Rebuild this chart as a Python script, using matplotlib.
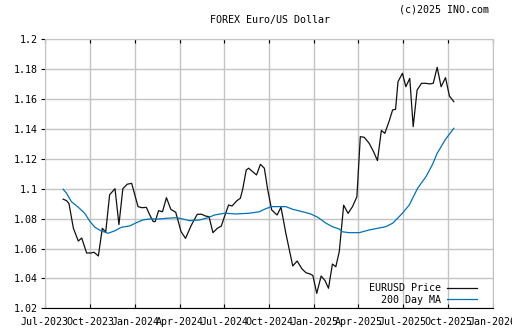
import matplotlib
matplotlib.use("Agg")
import matplotlib.pyplot as plt
import matplotlib.dates as mdates
import pandas as pd

# EURUSD price (approx. weekly closes)
price_dates = [
    "2023-08-07", "2023-08-14", "2023-08-19", "2023-08-28", "2023-09-07", "2023-09-14",
    "2023-09-24", "2023-10-03", "2023-10-09", "2023-10-18", "2023-10-26", "2023-11-02",
    "2023-11-10", "2023-11-21", "2023-11-29", "2023-12-07", "2023-12-16", "2023-12-25",
    "2024-01-07", "2024-01-15", "2024-01-24", "2024-01-31", "2024-02-07", "2024-02-11",
    "2024-02-18", "2024-02-26", "2024-03-05", "2024-03-14", "2024-03-24", "2024-04-04",
    "2024-04-13", "2024-04-25", "2024-05-07", "2024-05-16", "2024-05-24", "2024-05-31",
    "2024-06-08", "2024-06-17", "2024-06-25", "2024-07-04", "2024-07-10", "2024-07-17",
    "2024-07-27", "2024-08-03", "2024-08-08", "2024-08-15", "2024-08-20", "2024-08-28",
    "2024-09-05", "2024-09-13", "2024-09-21", "2024-09-28", "2024-10-06", "2024-10-17",
    "2024-10-25", "2024-11-04", "2024-11-18", "2024-11-27", "2024-12-07", "2024-12-15",
    "2024-12-23", "2024-12-29", "2025-01-06", "2025-01-15", "2025-01-23", "2025-01-30",
    "2025-02-07", "2025-02-14", "2025-02-21", "2025-03-02", "2025-03-11", "2025-03-20",
    "2025-03-29", "2025-04-05", "2025-04-13", "2025-04-23", "2025-05-02", "2025-05-10",
    "2025-05-18", "2025-05-25", "2025-06-03", "2025-06-10", "2025-06-16", "2025-06-21",
    "2025-06-30", "2025-07-07", "2025-07-15", "2025-07-22", "2025-07-30", "2025-08-08",
    "2025-08-16", "2025-08-25", "2025-09-01", "2025-09-09", "2025-09-17", "2025-09-26",
    "2025-10-04", "2025-10-13",
]
price = [
    1.093, 1.092, 1.090, 1.0735, 1.065, 1.067,
    1.057, 1.057, 1.0575, 1.055, 1.0735, 1.071,
    1.096, 1.100, 1.076, 1.100, 1.103, 1.1036,
    1.088, 1.0873, 1.0875, 1.0824, 1.078, 1.078,
    1.0853, 1.0846, 1.094, 1.0862, 1.0842, 1.0712,
    1.0668, 1.0757, 1.0829, 1.0829, 1.0817, 1.0813,
    1.0706, 1.0735, 1.075, 1.0836, 1.0891, 1.0884,
    1.092, 1.0936, 1.100, 1.1125, 1.1137, 1.1114,
    1.1092, 1.1163, 1.1137, 1.0991, 1.0858, 1.0824,
    1.0876, 1.070, 1.0483, 1.0516, 1.0463, 1.0438,
    1.043, 1.042, 1.030, 1.0416, 1.0385, 1.0334,
    1.0496, 1.0478, 1.0579, 1.089, 1.0835, 1.088,
    1.0946, 1.1348, 1.1344, 1.1304, 1.1248, 1.1188,
    1.139, 1.137, 1.1453, 1.1527, 1.1531, 1.1716,
    1.1772, 1.1682, 1.1738, 1.1415, 1.166, 1.1705,
    1.1705, 1.1701, 1.1705, 1.1812, 1.1682, 1.1743,
    1.162, 1.1582,
]

# 200 day moving average
ma_dates = [
    "2023-08-07", "2023-08-14", "2023-08-24", "2023-09-07", "2023-09-20", "2023-10-01",
    "2023-10-11", "2023-10-24", "2023-11-07", "2023-11-21", "2023-12-04", "2023-12-21",
    "2024-01-04", "2024-01-17", "2024-01-31", "2024-02-17", "2024-03-05", "2024-03-25",
    "2024-04-08", "2024-04-21", "2024-05-12", "2024-05-29", "2024-06-11", "2024-07-02",
    "2024-07-25", "2024-08-22", "2024-09-11", "2024-09-21", "2024-10-05", "2024-11-04",
    "2024-11-18", "2024-12-08", "2024-12-25", "2025-01-08", "2025-01-25", "2025-02-07",
    "2025-02-21", "2025-02-27", "2025-03-13", "2025-04-03", "2025-04-23", "2025-05-10",
    "2025-05-27", "2025-06-10", "2025-06-20", "2025-06-30", "2025-07-14", "2025-07-31",
    "2025-08-17", "2025-08-30", "2025-09-09", "2025-09-26", "2025-10-13",
]
ma200 = [
    1.0996, 1.097, 1.0913, 1.0876, 1.0836, 1.078,
    1.0742, 1.0717, 1.0702, 1.0719, 1.0742, 1.0751,
    1.0773, 1.0791, 1.0798, 1.0797, 1.0802, 1.0806,
    1.0797, 1.0786, 1.0791, 1.0806, 1.0824, 1.0836,
    1.0831, 1.0836, 1.0846, 1.0862, 1.088, 1.088,
    1.0862, 1.0846, 1.0831, 1.0809, 1.0769, 1.0746,
    1.073, 1.0712, 1.0706, 1.0706, 1.0724, 1.0735,
    1.0746, 1.0769, 1.0802, 1.0836, 1.0891, 1.1003,
    1.108, 1.1159, 1.1237, 1.133, 1.1404,
]

y_ticks = [1.02, 1.04, 1.06, 1.08, 1.1, 1.12, 1.14, 1.16, 1.18, 1.2]
y_labels = ["1.02", "1.04", "1.06", "1.08", "1.1", "1.12", "1.14", "1.16", "1.18", "1.2"]

mono = "DejaVu Sans Mono"
fs = 7.2

fig = plt.figure(figsize=(5.12, 3.35), dpi=100)
ax = fig.add_axes([45 / 512, 1 - 308.3 / 335, 448 / 512, (308.3 - 39.2) / 335])

ax.plot(pd.to_datetime(price_dates), price, color="#111111", lw=0.9, label="EURUSD Price")
ax.plot(pd.to_datetime(ma_dates), ma200, color="#0072bb", lw=0.9, label="200 Day MA")

ax.set_xlim(pd.Timestamp("2023-07-01"), pd.Timestamp("2026-01-01"))
ax.set_ylim(1.02, 1.2)
ax.xaxis.set_major_locator(mdates.MonthLocator(bymonth=[1, 4, 7, 10]))
ax.xaxis.set_major_formatter(mdates.DateFormatter("%b-%Y"))
ax.set_yticks(y_ticks)
ax.set_yticklabels(y_labels)

ax.grid(True, color="#c4c4c4", lw=1)
ax.set_axisbelow(True)
for s in ["top", "right", "left"]:
    ax.spines[s].set_color("#c4c4c4")
ax.spines["bottom"].set_color("black")
ax.tick_params(axis="x", direction="in", length=3, color="black", top=True,
               labelsize=fs, pad=6)
ax.tick_params(axis="y", direction="out", length=3, color="black", right=False,
               labelsize=fs, pad=2)
for lab in ax.get_xticklabels() + ax.get_yticklabels():
    lab.set_family(mono)

leg = ax.legend(loc="lower right", bbox_to_anchor=(0.985, -0.02), frameon=False,
                markerfirst=False, handlelength=3.0, handletextpad=0.6,
                labelspacing=0.15, prop={"family": mono, "size": fs})

fig.text(270 / 512, 1 - 20 / 335, "FOREX Euro/US Dollar", ha="center", va="center",
         family=mono, fontsize=fs)
fig.text(489 / 512, 1 - 9 / 335, "(c)2025 INO.com", ha="right", va="center",
         family=mono, fontsize=fs)

fig.savefig("out.png", dpi=100)
